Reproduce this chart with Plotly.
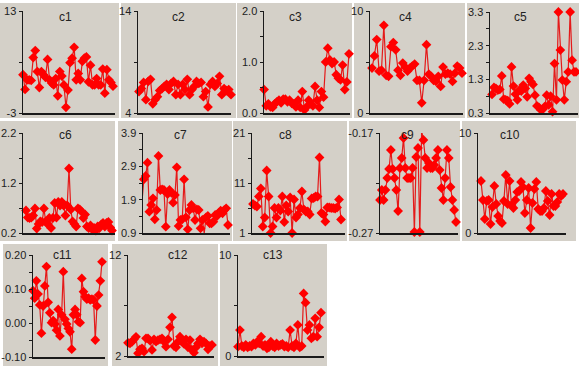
import plotly.graph_objects as go

W, H = 579, 369

# ---------------- data ----------------
c1 = [3.0, 0.7, 2.2, 2.2, 2.1, 5.7, 6.8, 3.5, 1.0, 3.5, 3.0, 2.6, 5.4, 2.2, 1.7, 1.4, 2.4, -0.3, 3.5, 2.8,
      1.4, -2.1, 0.6, 4.9, 5.6, 7.3, 2.2, 3.2, 2.2, 5.1, 5.6, 5.8, 1.9, 4.5, 1.4, 1.4, 2.4, 1.4, 1.4, 3.9,
      0.1, 3.8, 2.2, 1.8, 1.2]
c2 = [6.1, 6.4, 7.0, 5.3, 7.1, 7.3, 4.9, 5.3, 5.6, 6.2, 6.4, 6.6, 6.8, 6.3, 6.9, 7.1, 5.8, 6.8, 5.8, 6.8,
      6.3, 7.3, 5.8, 6.3, 6.6, 7.1, 6.9, 7.0, 5.6, 6.1, 4.6, 6.8, 7.1, 6.6, 6.9, 7.6, 5.8, 6.4, 6.2, 6.3, 5.8]
c3 = [0.2, 0.46, 0.14, 0.18, 0.12, 0.11, 0.18, 0.22, 0.25, 0.2, 0.27, 0.27, 0.22, 0.25, 0.19, 0.18, 0.12,
      0.25, 0.11, 0.42, 0.06, 0.12, 0.25, 0.18, 0.14, 0.52, 0.25, 0.11, 0.42, 0.31, 1.0, 1.27, 1.04, 0.97,
      1.0, 0.75, 0.68, 0.65, 0.94, 0.46, 0.61, 1.16]
c4 = [4.4, 5.6, 7.2, 4.1, 4.2, 8.6, 3.7, 3.6, 6.5, 6.9, 6.2, 4.2, 3.7, 4.9, 4.5, 4.1, 4.4, 4.6, 4.8, 3.2,
      3.2, 1.0, 3.2, 6.7, 3.8, 3.6, 3.2, 3.1, 3.6, 2.6, 4.5, 3.8, 3.9, 3.8, 3.1, 3.9, 4.6, 4.4, 3.9]
c5 = [0.85, 1.06, 1.03, 0.98, 1.0, 1.4, 0.71, 0.69, 0.67, 0.57, 1.67, 1.1, 0.86, 0.69, 0.98, 0.95, 1.13,
      1.03, 0.78, 1.33, 1.23, 1.15, 0.83, 0.51, 0.47, 0.39, 0.41, 0.49, 0.83, 0.54, 0.8, 0.34, 1.77, 0.69,
      3.3, 2.17, 1.28, 0.69, 1.23, 1.52, 3.3, 1.87, 1.52, 1.52]
c6 = [0.65, 0.51, 0.5, 0.51, 0.55, 0.69, 0.29, 0.38, 0.43, 0.42, 0.69, 0.43, 0.38, 0.5, 0.3, 0.5, 0.8,
      0.51, 0.82, 0.75, 0.82, 0.75, 0.55, 0.75, 1.49, 0.67, 0.43, 0.38, 0.33, 0.69, 0.67, 0.63, 0.5, 0.57,
      0.33, 0.3, 0.35, 0.27, 0.3, 0.25, 0.33, 0.3, 0.37, 0.4, 0.33, 0.4, 0.42, 0.31, 0.25]
c7 = [1.84, 2.51, 2.61, 3.01, 1.54, 1.74, 1.94, 1.31, 1.59, 3.21, 2.19, 2.21, 2.19, 1.09, 2.07, 2.19, 2.11,
      1.81, 2.04, 2.87, 1.11, 1.29, 1.31, 2.51, 1.37, 1.01, 1.59, 1.74, 1.64, 1.29, 1.61, 1.59, 1.04, 1.29,
      0.89, 1.37, 1.41, 1.19, 1.19, 1.24, 1.44, 1.41, 1.51, 1.57, 1.49, 1.59, 1.64, 1.14]
c8 = [6.8, 6.5, 6.3, 8.3, 9.9, 2.3, 4.1, 13.5, 8.3, 1.0, 2.3, 6.0, 4.1, 6.0, 5.5, 8.3, 3.2, 6.5, 5.3, 8.1,
      1.0, 7.7, 4.1, 4.7, 6.0, 9.3, 5.7, 5.3, 5.3, 4.7, 7.9, 8.0, 8.3, 8.3, 16.1, 5.0, 4.7, 3.3, 6.1, 6.1,
      6.0, 6.0, 5.9, 6.1, 7.7, 3.7]
c9 = [-0.237, -0.227, -0.237, -0.227, -0.215, -0.206, -0.187, -0.206, -0.215, -0.227, -0.248, -0.205,
      -0.195, -0.175, -0.205, -0.215, -0.215, -0.215, -0.205, -0.269, -0.194, -0.185, -0.269, -0.168,
      -0.177, -0.195, -0.205, -0.2, -0.205, -0.205, -0.202, -0.195, -0.187, -0.207, -0.225, -0.237,
      -0.215, -0.187, -0.195, -0.224, -0.237, -0.247, -0.259]
c10 = [5.2, 3.3, 1.4, 3.2, 3.3, 0.9, 2.6, 4.7, 2.9, 1.7, 1.2, 1.0, 3.2, 5.8, 2.9, 5.2, 2.8, 2.5, 3.3, 4.1,
       4.2, 5.1, 4.6, 2.0, 3.3, 4.5, 0.5, 3.0, 4.4, 5.1, 2.4, 2.2, 2.2, 2.5, 4.2, 3.2, 1.8, 3.9, 2.7, 2.7,
       3.1, 3.9, 3.7, 3.9]
c11 = [0.095, 0.073, 0.124, 0.085, 0.053, -0.03, 0.05, 0.109, 0.166, 0.061, 0.03, 0.001, 0.007, -0.003,
       -0.021, 0.04, -0.038, 0.024, 0.151, 0.011, -0.003, -0.016, -0.026, -0.077, 0.024, 0.04, 0.024,
       0.004, 0.001, 0.131, 0.092, 0.077, 0.07, 0.073, 0.068, 0.07, 0.068, -0.05, 0.05, 0.082, 0.124, 0.18]
c12 = [3.3, 3.25, 3.4, 3.65, 3.9, 2.27, 2.66, 2.76, 2.43, 3.75, 3.75, 3.52, 2.6, 3.65, 3.42, 3.58, 3.65,
       3.75, 3.42, 2.92, 3.65, 4.84, 5.83, 2.99, 2.86, 3.42, 3.91, 3.42, 3.19, 3.65, 2.86, 3.58, 2.6, 2.33,
       2.86, 3.25, 3.65, 3.25, 3.42, 3.25, 2.66, 2.99, 3.09]
c13 = [0.92, 2.57, 0.99, 0.86, 1.09, 0.86, 0.99, 0.92, 1.25, 1.09, 1.42, 1.25, 1.91, 0.99, 1.09, 0.76,
       0.86, 1.42, 0.99, 0.86, 1.25, 0.99, 1.09, 1.19, 0.92, 0.99, 0.86, 2.57, 0.99, 0.86, 1.25, 3.07,
       0.86, 0.99, 6.2, 5.28, 2.57, 3.07, 1.75, 1.91, 3.73, 1.91, 2.84, 4.29]

series_names = ["c1", "c2", "c3", "c4", "c5", "c6", "c7", "c8", "c9", "c10", "c11", "c12", "c13"]
series_values = [c1, c2, c3, c4, c5, c6, c7, c8, c9, c10, c11, c12, c13]

# y-axis ranges, tick values and tick labels
y_ranges = [(-3, 13), (4, 14), (0, 2), (0, 10), (0.3, 3.3), (0.2, 2.2), (0.9, 3.9), (1, 21),
            (-0.27, -0.17), (0, 10), (-0.10, 0.20), (2, 12), (0, 10)]
tick_vals = [[-3, 5, 13], [4, 9, 14], [0, 0.5, 1, 1.5, 2], [0, 5, 10],
             [0.3, 0.8, 1.3, 1.8, 2.3, 2.8, 3.3], [0.2, 0.7, 1.2, 1.7, 2.2],
             [0.9, 1.4, 1.9, 2.4, 2.9, 3.4, 3.9], [1, 6, 11, 16, 21], [-0.27, -0.22, -0.17],
             [0, 10], [-0.10, -0.05, 0, 0.05, 0.10, 0.15, 0.20], [2, 7, 12], [0, 5, 10]]
tick_text = [["-3", "", "13"], ["4", "", "14"], ["0.0", "", "1.0", "", "2.0"], ["0", "", "10"],
             ["0.3", "", "1.3", "", "2.3", "", "3.3"], ["0.2", "", "1.2", "", "2.2"],
             ["0.9", "", "1.9", "", "2.9", "", "3.9"], ["1", "", "11", "", "21"], ["-0.27", "", "-0.17"],
             ["0", "10"], ["-0.10", "", "0.00", "", "0.10", "", "0.20"], ["2", "", "12"], ["0", "", "10"]]

# ---------------- layout geometry (pixels) ----------------
# bg box (x0, x1, y0, y1), axis left, axis right, first pt x, last pt x, plot top, plot bottom, title x
panels = [
    ((0, 119, 3, 118), 23, 115, 23, 113, 11, 113, 65),
    ((121, 236, 3, 118), 138, 231, 139, 231, 11, 113, 178),
    ((237, 352, 3, 118), 264, 350, 262, 349, 11, 113, 295),
    ((354, 465, 3, 118), 370, 463, 372, 462, 11, 113, 405),
    ((467, 579, 3, 118), 490, 578, 492, 576, 12, 113, 520),
    ((0, 115, 121, 241), 23, 115, 26, 112, 133, 233, 65),
    ((118, 232, 121, 241), 143, 230, 142, 228, 133, 233, 180),
    ((233, 347, 121, 241), 252, 345, 253, 341, 133, 233, 285),
    ((349, 460, 121, 241), 380, 458, 380, 456, 133, 233, 407),
    ((462, 576, 121, 241), 478, 566, 481, 563, 133, 233, 510),
    ((3, 108, 244, 366), 33, 105, 33, 102, 255, 357, 62),
    ((112, 218, 244, 366), 128, 214, 128, 212, 255, 356, 178),
    ((220, 327, 244, 366), 238, 324, 238, 321, 255, 356, 273),
]
title_y = {3: 17, 121: 135, 244: 255}

BG = "#d4d0c8"
RED = "#ff0000"
LINE_RED = "#e41a1a"
AX = "#1a1a1a"
FONT = "Liberation Sans, Arial, sans-serif"

fig = go.Figure()
shapes = []
annotations = []
layout = {}

def px_x(v):
    return v / W

def px_y(v):
    return 1 - v / H

n_p = len(series_values)
for i, (vals, name, yr, tv, tt, p) in enumerate(zip(series_values, series_names, y_ranges,
                                                     tick_vals, tick_text, panels)):
    k = i + 1
    (bx0, bx1, by0, by1), axl, axr, fx, lx, ptop, pbot, tx = p
    n = len(vals)
    step = (lx - fx) / (n - 1)
    xlo = -(fx - axl) / step
    xhi = (axr - fx) / step
    xs = list(range(n))

    shapes.append(dict(type="rect", xref="paper", yref="paper",
                       x0=px_x(bx0), x1=px_x(bx1), y0=px_y(by1), y1=px_y(by0),
                       fillcolor=BG, line=dict(width=0), layer="below"))

    xa = "x" if k == 1 else f"x{k}"
    ya = "y" if k == 1 else f"y{k}"
    fig.add_trace(go.Scatter(x=xs, y=vals, xaxis=xa, yaxis=ya, mode="lines+markers",
                             line=dict(color=LINE_RED, width=1.2),
                             marker=dict(symbol="diamond", size=7.5, color=RED,
                                         line=dict(width=0)),
                             cliponaxis=False, showlegend=False, hoverinfo="skip"))

    xkey = "xaxis" if k == 1 else f"xaxis{k}"
    ykey = "yaxis" if k == 1 else f"yaxis{k}"
    layout[xkey] = dict(domain=[px_x(axl), px_x(axr)], range=[xlo, xhi], anchor=ya,
                        showgrid=False, zeroline=False, showticklabels=False, ticks="",
                        showline=True, linecolor=AX, linewidth=1.5, fixedrange=True,
                        automargin=False)
    layout[ykey] = dict(domain=[px_y(pbot), px_y(ptop)], range=list(yr), anchor=xa,
                        showgrid=False, zeroline=False, showline=True, linecolor=AX, linewidth=1.5,
                        tickmode="array", tickvals=tv, ticktext=tt, ticks="outside",
                        ticklen=3, tickwidth=1, tickcolor=AX, automargin=False,
                        tickfont=dict(family=FONT, size=11, color="#222222"), fixedrange=True)
    # inner half of the crossing tick marks
    k2 = n_p + k
    layout[f"yaxis{k2}"] = dict(overlaying=ya, anchor=xa, range=list(yr), side="left",
                                showgrid=False, zeroline=False, showline=False,
                                tickmode="array", tickvals=tv, ticks="inside", ticklen=3,
                                tickwidth=1, tickcolor=AX, showticklabels=False, fixedrange=True,
                                automargin=False)

    annotations.append(dict(text=name, xref="paper", yref="paper", x=px_x(tx), y=px_y(title_y[by0]),
                            showarrow=False, xanchor="center", yanchor="middle",
                            font=dict(family=FONT, size=12, color="#222222")))

fig.update_layout(width=W, height=H, margin=dict(l=0, r=0, t=0, b=0, autoexpand=False),
                  paper_bgcolor="white", plot_bgcolor="rgba(0,0,0,0)",
                  shapes=shapes, annotations=annotations, showlegend=False, **layout)

fig.write_html("out.html", config={"displayModeBar": False, "staticPlot": True},
               post_script="document.body.style.margin='0px';")
